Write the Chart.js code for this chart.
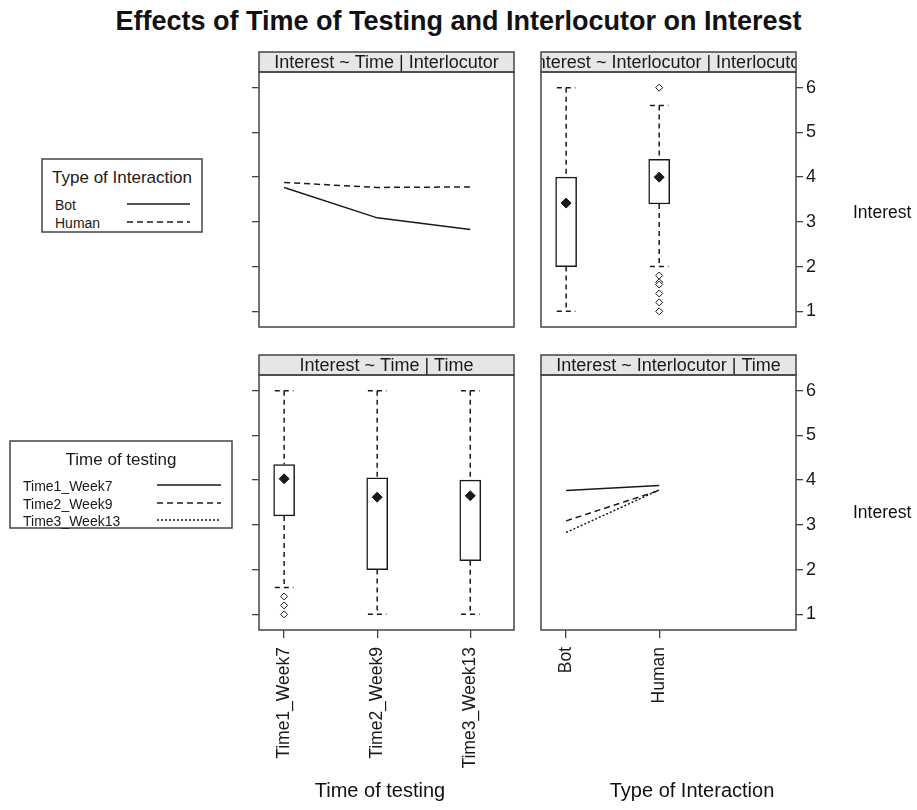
<!DOCTYPE html>
<html>
<head>
<meta charset="utf-8">
<title>Effects of Time of Testing and Interlocutor on Interest</title>
<script src="https://cdn.jsdelivr.net/npm/chart.js@4.4.1/dist/chart.umd.min.js"></script>
<style>
  body { margin: 0; background: #fff; }
  #page { position: relative; width: 917px; height: 810px; overflow: hidden;
          font-family: 'Liberation Sans', Arial, sans-serif; color: #111; }
  #page canvas, #page svg { position: absolute; }
  .txt { position: absolute; white-space: nowrap; line-height: 1; }
</style>
</head>
<body>
<div id="page">
  <div class="txt" id="mainTitle" style="left:0; width:917px; top:8px; text-align:center; font-weight:bold; font-size:27px;">Effects of Time of Testing and Interlocutor on Interest</div>

  <canvas id="timeByInter" width="300" height="301" style="left:230px; top:40px;"></canvas>
  <canvas id="interByInter" width="340" height="301" style="left:530px; top:40px;"></canvas>
  <canvas id="timeByTime" width="300" height="467" style="left:230px; top:343px;"></canvas>
  <canvas id="interByTime" width="340" height="467" style="left:530px; top:343px;"></canvas>

  <div class="txt" style="left:853px; top:204px; font-size:17.5px;">Interest</div>
  <div class="txt" style="left:853px; top:504px; font-size:17.5px;">Interest</div>
  <div class="txt" style="left:280px; width:200px; top:780px; text-align:center; font-size:20px;">Time of testing</div>
  <div class="txt" style="left:592px; width:200px; top:780px; text-align:center; font-size:20px;">Type of Interaction</div>

  <svg id="keyInter" width="162" height="75" style="left:41px; top:158px;"></svg>
  <svg id="keyTime" width="224" height="89" style="left:9px; top:440px;"></svg>
</div>

<script>
// categories
const timeLabels = ['Time1_Week7', 'Time2_Week9', 'Time3_Week13'];
const interlocutorLabels = ['Bot', 'Human'];
const interestTicks = [1, 2, 3, 4, 5, 6];

// mean interest at each time point, one series per interlocutor
const botMeans = [3.77, 3.09, 2.83];
const humanMeans = [3.88, 3.77, 3.78];

// box stats by interlocutor (Bot, Human)
const interLow = [1.0, 2.0];
const interQ1 = [2.0, 3.4];
const interQ3 = [4.0, 4.4];
const interHigh = [6.0, 5.6];
const interMean = [3.42, 4.0];
const interOutliers = [[], [6.0, 1.8, 1.65, 1.6, 1.4, 1.2, 1.0]];

// box stats by time point
const timeLow = [1.6, 1.0, 1.0];
const timeQ1 = [3.2, 2.0, 2.2];
const timeQ3 = [4.35, 4.05, 4.0];
const timeHigh = [6.0, 6.0, 6.0];
const timeMean = [4.03, 3.62, 3.65];
const timeOutliers = [[1.4, 1.2, 1.0], [], []];

const INK = '#1a1a1a';
const FRAME = '#444';
const dashes = [[], [6, 4], [2, 2]];

Chart.defaults.font.family = "'Liberation Sans', Arial, sans-serif";
Chart.defaults.color = INK;

/* grey strip above each panel + panel frame */
const stripPlugin = {
  id: 'strip',
  afterDraw(chart, args, opts) {
    const { ctx, chartArea: a } = chart;
    const h = 20;
    ctx.save();
    ctx.fillStyle = '#e6e6e6';
    ctx.fillRect(a.left, a.top - h, a.width, h);
    ctx.beginPath();
    ctx.rect(a.left, a.top - h, a.width, h);
    ctx.clip();
    ctx.fillStyle = INK;
    ctx.font = "18px 'Liberation Sans', Arial, sans-serif";
    ctx.textAlign = 'center';
    ctx.textBaseline = 'middle';
    ctx.fillText(opts.text, (a.left + a.right) / 2, a.top - h / 2 + 1);
    ctx.restore();

    ctx.save();
    ctx.strokeStyle = FRAME;
    ctx.lineWidth = 1.5;
    ctx.strokeRect(a.left, a.top - h, a.width, h);
    ctx.strokeRect(a.left, a.top, a.width, a.height);
    ctx.restore();
  }
};

function lineSeries(values, dash) {
  return {
    type: 'line',
    data: values.map((v, i) => ({ x: i, y: v })),
    borderColor: INK,
    borderWidth: 1.5,
    borderDash: dash,
    pointRadius: 0,
    tension: 0
  };
}

function boxSeries(low, q1, q3, high, mean, outliers) {
  const cap = 0.1;
  const whisk = [];
  low.forEach((lo, i) => {
    whisk.push(
      { x: i - cap, y: high[i] }, { x: i + cap, y: high[i] }, { x: i, y: null },
      { x: i, y: high[i] }, { x: i, y: q3[i] }, { x: i, y: null },
      { x: i, y: q1[i] }, { x: i, y: lo }, { x: i, y: null },
      { x: i - cap, y: lo }, { x: i + cap, y: lo }, { x: i, y: null }
    );
  });
  const outs = [];
  outliers.forEach((list, i) => list.forEach(v => outs.push({ x: i, y: v })));

  return [
    {
      type: 'bar',
      data: q1.map((v, i) => ({ x: i, y: [v, q3[i]] })),
      backgroundColor: '#fff',
      borderColor: INK,
      borderWidth: 1.5,
      borderSkipped: false,
      barThickness: 21,
      grouped: false,
      order: 2
    },
    {
      type: 'line',
      data: whisk,
      borderColor: INK,
      borderWidth: 1.5,
      borderDash: [5, 4],
      pointRadius: 0,
      spanGaps: false,
      order: 3
    },
    {
      type: 'scatter',
      data: outs,
      pointStyle: 'rectRot',
      pointRadius: 3.5,
      backgroundColor: '#fff',
      borderColor: INK,
      borderWidth: 1,
      order: 1
    },
    {
      type: 'scatter',
      data: mean.map((v, i) => ({ x: i, y: v })),
      pointStyle: 'rectRot',
      pointRadius: 5,
      backgroundColor: INK,
      borderColor: INK,
      order: 0
    }
  ];
}

function panel(id, strip, side, xLabels, showX, datasets) {
  const right = side === 'right';
  return new Chart(document.getElementById(id), {
    type: 'bar',
    data: { datasets },
    plugins: [stripPlugin],
    options: {
      responsive: false,
      animation: false,
      events: [],
      layout: {
        padding: {
          top: 32,
          left: right ? 11 : 0,
          right: right ? 34 : 16,
          bottom: showX ? 30 : 14
        }
      },
      plugins: {
        legend: { display: false },
        tooltip: { enabled: false },
        strip: { text: strip }
      },
      scales: {
        x: {
          type: 'linear',
          min: -0.27,
          max: 2.47,
          offset: false,
          display: showX,
          afterBuildTicks: s => { s.ticks = xLabels.map((_, i) => ({ value: i })); },
          afterFit: s => { if (showX) s.height = 150; },
          ticks: {
            callback: v => xLabels[v],
            minRotation: 90,
            maxRotation: 90,
            autoSkip: false,
            font: { size: 17.5 },
            padding: 9
          },
          grid: { drawOnChartArea: false, offset: false, tickLength: 8, color: FRAME, lineWidth: 1.3 },
          border: { display: false }
        },
        y: {
          position: side,
          min: 0.65,
          max: 6.35,
          afterBuildTicks: s => { s.ticks = interestTicks.map(v => ({ value: v })); },
          afterFit: s => { s.width = right ? 40 : 29; },
          ticks: { display: right, font: { size: 18 }, padding: 3 },
          grid: { drawOnChartArea: false, tickLength: 7, color: FRAME, lineWidth: 1.3 },
          border: { display: false }
        }
      }
    }
  });
}

// Interest ~ Time | Interlocutor
panel('timeByInter', 'Interest ~ Time | Interlocutor', 'left', timeLabels, false,
  [botMeans, humanMeans].map((vals, k) => lineSeries(vals, dashes[k])));

// Interest ~ Interlocutor | Interlocutor
panel('interByInter', 'Interest ~ Interlocutor | Interlocutor', 'right', interlocutorLabels, false,
  boxSeries(interLow, interQ1, interQ3, interHigh, interMean, interOutliers));

// Interest ~ Time | Time
panel('timeByTime', 'Interest ~ Time | Time', 'left', timeLabels, true,
  boxSeries(timeLow, timeQ1, timeQ3, timeHigh, timeMean, timeOutliers));

// Interest ~ Interlocutor | Time : one line per time point across Bot/Human
panel('interByTime', 'Interest ~ Interlocutor | Time', 'right', interlocutorLabels, true,
  timeLabels.map((_, t) => lineSeries([botMeans[t], humanMeans[t]], dashes[t])));

/* boxed keys */
const SVGNS = 'http://www.w3.org/2000/svg';
function el(svg, tag, attrs, text) {
  const n = document.createElementNS(SVGNS, tag);
  Object.entries(attrs).forEach(([k, v]) => n.setAttribute(k, v));
  if (text) n.textContent = text;
  svg.appendChild(n);
}

function drawKey(id, title, labels, lineX0, lineX1, rowY) {
  const svg = document.getElementById(id);
  const w = +svg.getAttribute('width'), h = +svg.getAttribute('height');
  el(svg, 'rect', { x: 1, y: 1, width: w - 2, height: h - 2, fill: '#fff', stroke: FRAME, 'stroke-width': 1.5 });
  el(svg, 'text', { x: w / 2, y: 25, 'text-anchor': 'middle', 'font-size': 17,
    'font-family': "'Liberation Sans', Arial, sans-serif", fill: INK }, title);
  labels.forEach((lab, k) => {
    const y = rowY[k];
    el(svg, 'text', { x: 14, y: y + 5, 'font-size': 14,
      'font-family': "'Liberation Sans', Arial, sans-serif", fill: INK }, lab);
    el(svg, 'line', { x1: lineX0, x2: lineX1, y1: y - 1, y2: y - 1, stroke: INK, 'stroke-width': 1.4,
      'stroke-dasharray': dashes[k].length ? dashes[k].join(' ') : 'none' });
  });
}

drawKey('keyInter', 'Type of Interaction', interlocutorLabels, 86, 149, [47, 65]);
drawKey('keyTime', 'Time of testing', timeLabels, 148, 212, [46, 64, 81]);
</script>
</body>
</html>
